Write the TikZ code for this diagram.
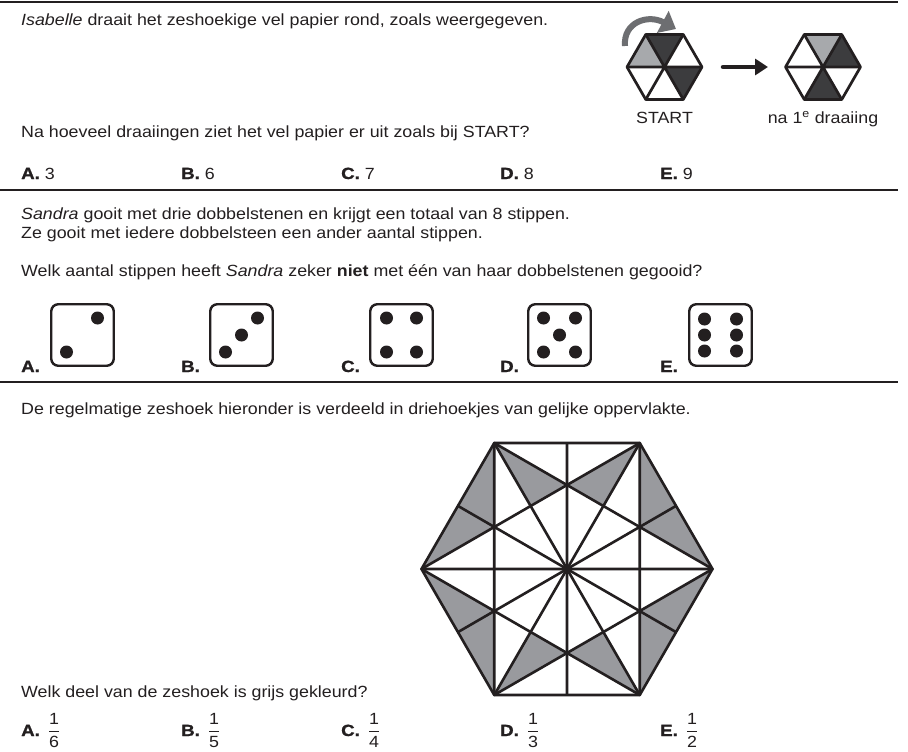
\documentclass[tikz,border=0pt]{standalone}
\usepackage{fontspec}
\setmainfont{Liberation Sans}[FakeStretch=1.1]
\newfontfamily\lbl{Liberation Sans Bold}[FakeStretch=1.15,FakeBold=1.3]
\usetikzlibrary{arrows.meta}
\definecolor{ink}{HTML}{231F20}
\definecolor{dgrey}{HTML}{3C3C3E}
\definecolor{lgrey}{HTML}{A7A9AC}
\definecolor{mgrey}{HTML}{999A9E}
\definecolor{agrey}{HTML}{6D6E71}
\newcommand\fr[2]{$\displaystyle\frac{\mbox{#1}}{\mbox{#2}}$}
\begin{document}
\begin{tikzpicture}[x=1pt,y=-1pt,
  txt/.style={anchor=base west, inner sep=0pt, text=ink, font=\fontsize{16.2}{19}\selectfont},
  ctxt/.style={anchor=base, inner sep=0pt, text=ink, font=\fontsize{16.2}{19}\selectfont},
  sep/.style={draw=ink, line width=2pt},
  die/.style={draw=ink, line width=2.4pt, rounded corners=7pt, minimum width=62.5pt, minimum height=61.5pt, inner sep=0pt},
  pip/.style={fill=ink},
  hexline/.style={draw=ink, line width=2.7pt, line join=round},
  bigline/.style={draw=ink, line width=2.6pt, line join=round}]
\useasboundingbox (0,0) rectangle (908,752);
\fill[white] (0,0) rectangle (908,752);

% separators
\draw[sep] (0,2) -- (898,2);
\draw[sep] (0,190) -- (898,190);
\draw[sep] (0,382) -- (898,382);

% ---------- question 1 ----------
\node[txt] (q1a) at (21,26) {\textit{Isabelle} draait het zeshoekige vel papier rond, zoals weergegeven.};
\node[txt] (q1b) at (21,137) {Na hoeveel draaiingen ziet het vel papier er uit zoals bij START?};
\node[txt] (a1A) at (21,179) {{\lbl A.} 3};
\node[txt] (a1B) at (181,179) {{\lbl B.} 6};
\node[txt] (a1C) at (341,179) {{\lbl C.} 7};
\node[txt] (a1D) at (500,179) {{\lbl D.} 8};
\node[txt] (a1E) at (660,179) {{\lbl E.} 9};

% small hexagon START
\begin{scope}[shift={(664.5,67)}]
  \coordinate (sC) at (0,0);
  \coordinate (sTL) at (-18.75,-32.5); \coordinate (sTR) at (18.75,-32.5);
  \coordinate (sR) at (37.5,0); \coordinate (sBR) at (18.75,32.5);
  \coordinate (sBL) at (-18.75,32.5); \coordinate (sL) at (-37.5,0);
  \fill[dgrey] (sC) -- (sTL) -- (sTR) -- cycle;
  \fill[lgrey] (sC) -- (sL) -- (sTL) -- cycle;
  \fill[dgrey] (sC) -- (sR) -- (sBR) -- cycle;
  \draw[hexline] (sTL) -- (sTR) -- (sR) -- (sBR) -- (sBL) -- (sL) -- cycle;
  \draw[hexline] (sTL) -- (sBR) (sTR) -- (sBL) (sL) -- (sR);
\end{scope}
% small hexagon after first turn
\begin{scope}[shift={(823,67)}]
  \coordinate (tC) at (0,0);
  \coordinate (tTL) at (-18.75,-32.5); \coordinate (tTR) at (18.75,-32.5);
  \coordinate (tR) at (37.5,0); \coordinate (tBR) at (18.75,32.5);
  \coordinate (tBL) at (-18.75,32.5); \coordinate (tL) at (-37.5,0);
  \fill[lgrey] (tC) -- (tTL) -- (tTR) -- cycle;
  \fill[dgrey] (tC) -- (tTR) -- (tR) -- cycle;
  \fill[dgrey] (tC) -- (tBR) -- (tBL) -- cycle;
  \draw[hexline] (tTL) -- (tTR) -- (tR) -- (tBR) -- (tBL) -- (tL) -- cycle;
  \draw[hexline] (tTL) -- (tBR) (tTR) -- (tBL) (tL) -- (tR);
\end{scope}
% arrows
\coordinate (arS) at (723,67);
\coordinate (arE) at (768,67);
\draw[ink, line width=4.5pt, line cap=round, -{Triangle[length=13pt,width=16pt]}] (arS) -- (arE);
\coordinate (cuS) at (625,46);
\coordinate (cuE) at (676,29);
\draw[agrey, line width=6pt, -{Triangle[length=15pt,width=24pt]}] (cuS) .. controls (623,22) and (648,14) .. (cuE);
\node[ctxt] (lstart) at (664.5,124) {START};
\node[ctxt] (lnext) at (823,124) {na 1\textsuperscript{e} draaiing};

% ---------- question 2 ----------
\node[txt] (q2a) at (21,219) {\textit{Sandra} gooit met drie dobbelstenen en krijgt een totaal van 8 stippen.};
\node[txt] (q2b) at (21,238) {Ze gooit met iedere dobbelsteen een ander aantal stippen.};
\node[txt] (q2c) at (21,276) {Welk aantal stippen heeft \textit{Sandra} zeker \textbf{niet} met één van haar dobbelstenen gegooid?};

\node[txt] (l2A) at (21,372) {\lbl A.};
\node[txt] (l2B) at (181,372) {\lbl B.};
\node[txt] (l2C) at (341,372) {\lbl C.};
\node[txt] (l2D) at (500,372) {\lbl D.};
\node[txt] (l2E) at (660,372) {\lbl E.};

\node[die] (dA) at (82.5,335) {};
\node[die] (dB) at (241.5,335) {};
\node[die] (dC) at (401.5,335) {};
\node[die] (dD) at (559.5,335) {};
\node[die] (dE) at (720.5,335) {};
% pips
\fill[pip] (dA.center) ++(15,-17) circle[radius=6.5pt];
\fill[pip] (dA.center) ++(-16,17) circle[radius=6.5pt];
\fill[pip] (dB.center) ++(16,-17) circle[radius=6.5pt];
\fill[pip] (dB.center) ++(0,0) circle[radius=6.5pt];
\fill[pip] (dB.center) ++(-16,17) circle[radius=6.5pt];
\foreach \dx/\dy in {-15/-17,15/-17,-15/17,15/17}{\fill[pip] (dC.center) ++(\dx,\dy) circle[radius=6.5pt];}
\foreach \dx/\dy in {-16/-17,16/-17,0/0,-16/17,16/17}{\fill[pip] (dD.center) ++(\dx,\dy) circle[radius=6.5pt];}
\foreach \dx/\dy in {-16/-16,16/-16,-16/0,16/0,-16/16,16/16}{\fill[pip] (dE.center) ++(\dx,\dy) circle[radius=6.5pt];}

% ---------- question 3 ----------
\node[txt] (q3a) at (21,414) {De regelmatige zeshoek hieronder is verdeeld in driehoekjes van gelijke oppervlakte.};
\node[txt] (q3b) at (21,697) {Welk deel van de zeshoek is grijs gekleurd?};

\coordinate (V0) at (712.5,569); \coordinate (V1) at (639.75,443);
\coordinate (V2) at (494.25,443); \coordinate (V3) at (421.5,569);
\coordinate (V4) at (494.25,695); \coordinate (V5) at (639.75,695);
\coordinate (Mt) at (567,443); \coordinate (Mb) at (567,695);
\coordinate (Mul) at (458.125,506); \coordinate (Mll) at (458.125,632);
\coordinate (Mur) at (675.875,506); \coordinate (Mlr) at (675.875,632);
\coordinate (Xul) at (494.25,527); \coordinate (Xll) at (494.25,611);
\coordinate (Xur) at (639.75,527); \coordinate (Xlr) at (639.75,611);
\coordinate (Pt) at (567,485); \coordinate (Pb) at (567,653);
\coordinate (Qul) at (530.625,506); \coordinate (Qur) at (603.375,506);
\coordinate (Qll) at (530.625,632); \coordinate (Qlr) at (603.375,632);

\fill[mgrey] (V2) -- (V3) -- (Xul) -- cycle;
\fill[mgrey] (V3) -- (V4) -- (Xll) -- cycle;
\fill[mgrey] (V1) -- (V0) -- (Xur) -- cycle;
\fill[mgrey] (V0) -- (V5) -- (Xlr) -- cycle;
\fill[mgrey] (V2) -- (Pt) -- (Qul) -- cycle;
\fill[mgrey] (V1) -- (Pt) -- (Qur) -- cycle;
\fill[mgrey] (V4) -- (Pb) -- (Qll) -- cycle;
\fill[mgrey] (V5) -- (Pb) -- (Qlr) -- cycle;

\draw[bigline] (V0) -- (V3) (V1) -- (V4) (V2) -- (V5);
\draw[bigline] (Mt) -- (Mb) (Mul) -- (Mlr) (Mur) -- (Mll);
\draw[bigline] (V0) -- (V2) -- (V4) -- cycle;
\draw[bigline] (V1) -- (V3) -- (V5) -- cycle;
\draw[bigline] (V0) -- (V1) -- (V2) -- (V3) -- (V4) -- (V5) -- cycle;
\fill[ink] (567,569) circle[radius=2.5pt];

\node[txt] (a3A) at (21,736) {{\lbl A.}\enspace\fr{1}{6}};
\node[txt] (a3B) at (181,736) {{\lbl B.}\enspace\fr{1}{5}};
\node[txt] (a3C) at (341,736) {{\lbl C.}\enspace\fr{1}{4}};
\node[txt] (a3D) at (500,736) {{\lbl D.}\enspace\fr{1}{3}};
\node[txt] (a3E) at (660,736) {{\lbl E.}\enspace\fr{1}{2}};
\end{tikzpicture}
\end{document}
